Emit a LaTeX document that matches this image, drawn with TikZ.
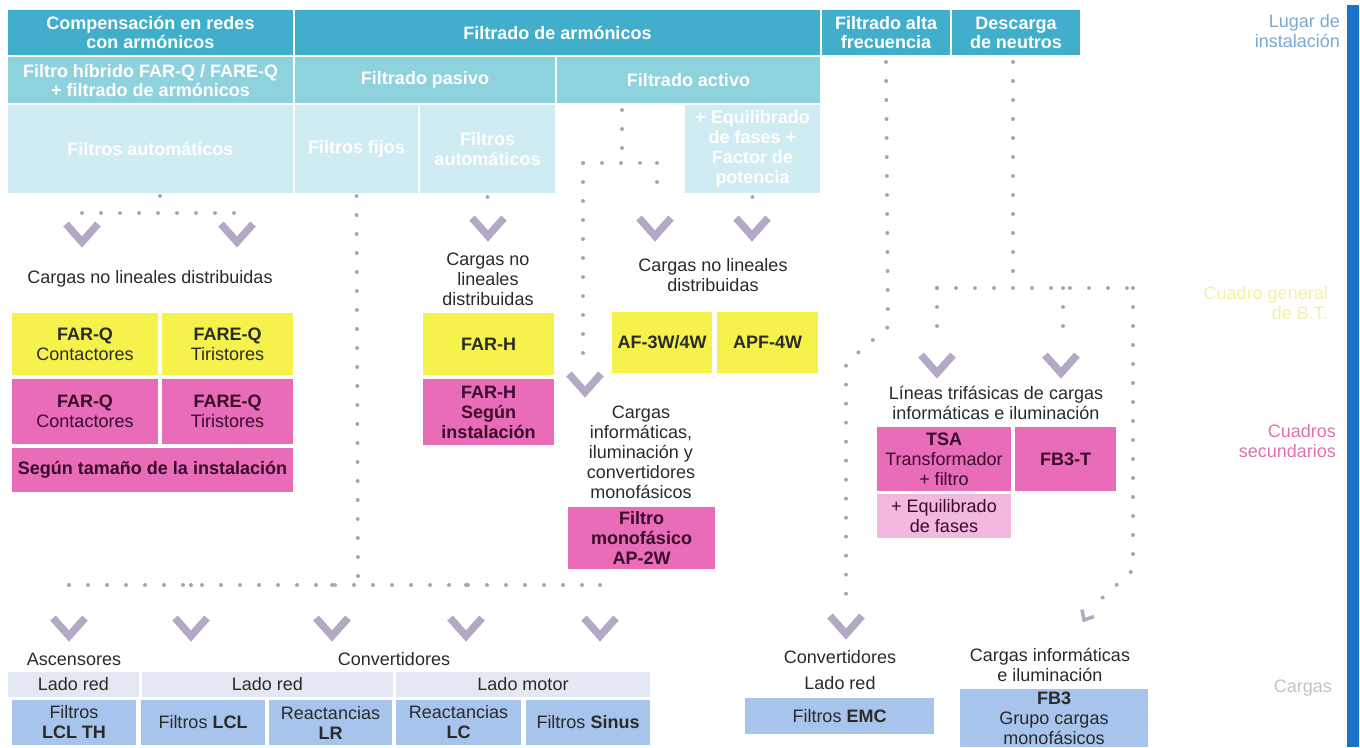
\documentclass[tikz,border=0pt]{standalone}
\usepackage{fontspec}
\setmainfont{Liberation Sans}
\usetikzlibrary{calc}

\definecolor{hdA}{HTML}{41AFCB}
\definecolor{hdB}{HTML}{8ED2DE}
\definecolor{hdC}{HTML}{CFECF2}
\definecolor{yel}{HTML}{F6F24C}
\definecolor{pnk}{HTML}{E86CB8}
\definecolor{lpnk}{HTML}{F2B8DD}
\definecolor{pnktext}{HTML}{3A0A2A}
\definecolor{blu}{HTML}{A6C4EC}
\definecolor{pale}{HTML}{E4E8F2}
\definecolor{dotc}{HTML}{ABA4B8}
\definecolor{chevc}{HTML}{B4A9C4}
\definecolor{txt}{HTML}{2A2A2A}
\definecolor{lugarc}{HTML}{7AA8D0}
\definecolor{cgbtc}{HTML}{F3F0A6}
\definecolor{cuadc}{HTML}{E070B0}
\definecolor{cargc}{HTML}{BFC3CF}
\definecolor{barc}{HTML}{1A73C8}

% a filled cell given by its corners: name, style, x1, y1, x2, y2, text
\newcommand\cellbox[7]{%
  \node[cell,#2,minimum width={(#5)-(#3)},minimum height={(#6)-(#4)}]
    (#1) at ({((#3)+(#5))/2},{((#4)+(#6))/2}) {#7};}

\tikzset{
  cell/.style={rectangle, inner sep=0pt, outer sep=0pt, align=center,
    text=txt, font=\fontsize{18}{20}\selectfont},
  hdone/.style={fill=hdA, text=white, font=\bfseries\fontsize{18}{19}\selectfont},
  hdtwo/.style={fill=hdB, text=white, font=\bfseries\fontsize{18}{19}\selectfont},
  hdthree/.style={fill=hdC, text=white, font=\bfseries\fontsize{18}{20}\selectfont},
  yelbox/.style={fill=yel},
  pnkbox/.style={fill=pnk, text=pnktext},
  lpnkbox/.style={fill=lpnk, text=pnktext},
  blubox/.style={fill=blu, text=txt},
  palebox/.style={fill=pale, text=txt},
  lbl/.style={align=center, inner sep=0pt, text=txt, font=\fontsize{18}{20}\selectfont},
  sidelbl/.style={align=right, anchor=east, inner sep=0pt, font=\fontsize{18}{20}\selectfont},
  dotline/.style={draw=dotc, line width=4pt, line cap=round, dash pattern=on 0pt off 19pt},
  chevline/.style={draw=chevc, line width=7.5pt, line join=miter},
  chev/.pic={\draw[chevline] (-16,-18) -- (0,0) -- (16,-18);},
  smallchev/.pic={\draw[chevline, line width=3.5pt] (-7,-8) -- (0,0) -- (7,-8);}
}

\begin{document}
\begin{tikzpicture}[x=1pt,y=-1pt]
\useasboundingbox (0,0) rectangle (1360,747);

% ---- header rows ----
\cellbox{hcomp}{hdone}{8}{10}{293}{55}{Compensación en redes\\con armónicos}
\cellbox{hfilt}{hdone}{295}{10}{820}{55}{Filtrado de armónicos}
\cellbox{halta}{hdone}{822}{10}{950}{55}{Filtrado alta\\frecuencia}
\cellbox{hdesc}{hdone}{952}{10}{1080}{55}{Descarga\\de neutros}

\cellbox{hhyb}{hdtwo}{8}{57}{293}{103}{Filtro híbrido FAR-Q / FARE-Q\\+ filtrado de armónicos}
\cellbox{hpas}{hdtwo}{295}{57}{555}{103}{Filtrado pasivo}
\cellbox{hact}{hdtwo}{557}{57}{820}{103}{Filtrado activo}

\cellbox{fauto}{hdthree}{8}{105}{293}{193}{Filtros automáticos}
\cellbox{ffijo}{hdthree}{295}{105}{418}{193}{Filtros fijos}
\cellbox{fauto2}{hdthree}{420}{105}{555}{193}{Filtros\\automáticos}
\cellbox{fequi}{hdthree}{685}{105}{820}{193}{+ Equilibrado\\de fases +\\Factor de\\potencia}

% ---- compensation with harmonics ----
\node[lbl] (cnl1) at (150,279) {Cargas no lineales distribuidas};
\cellbox{farqy}{yelbox}{12}{313}{158}{375}{\textbf{FAR-Q}\\Contactores}
\cellbox{fareqy}{yelbox}{162}{313}{293}{375}{\textbf{FARE-Q}\\Tiristores}
\cellbox{farqp}{pnkbox}{12}{379}{158}{444}{\textbf{FAR-Q}\\Contactores}
\cellbox{fareqp}{pnkbox}{162}{379}{293}{444}{\textbf{FARE-Q}\\Tiristores}
\cellbox{segun}{pnkbox}{12}{448}{293}{492}{\textbf{Según tamaño de la instalación}}

% ---- passive filtering ----
\node[lbl] (cnl2) at (488,279) {Cargas no\\lineales\\distribuidas};
\cellbox{farhy}{yelbox}{423}{313}{554}{375}{\textbf{FAR-H}}
\cellbox{farhp}{pnkbox}{423}{379}{554}{445}{\textbf{FAR-H}\\\textbf{Según}\\\textbf{instalación}}

% ---- active filtering ----
\node[lbl] (cnl3) at (713,275) {Cargas no lineales\\distribuidas};
\cellbox{af3w}{yelbox}{612}{312}{712}{373}{\textbf{AF-3W/4W}}
\cellbox{apf4w}{yelbox}{717}{312}{818}{373}{\textbf{APF-4W}}
\node[lbl] (cinf) at (641,452) {Cargas\\informáticas,\\iluminación y\\convertidores\\monofásicos};
\cellbox{ap2w}{pnkbox}{568}{507}{715}{569}{\textbf{Filtro}\\\textbf{monofásico}\\\textbf{AP-2W}}

% ---- three-phase lines ----
\node[lbl] (ltri) at (996,403) {Líneas trifásicas de cargas\\informáticas e iluminación};
\cellbox{tsa}{pnkbox}{877}{427}{1011}{491}{\textbf{TSA}\\Transformador\\+ filtro}
\cellbox{fb3t}{pnkbox}{1015}{427}{1116}{491}{\textbf{FB3-T}}
\cellbox{equi}{lpnkbox}{877}{494}{1011}{538}{+ Equilibrado\\de fases}

% ---- loads ----
\node[lbl] (asc) at (74,659) {Ascensores};
\node[lbl] (conv) at (394,659) {Convertidores};
\cellbox{lr1}{palebox}{8}{672}{139}{697}{Lado red}
\cellbox{lr2}{palebox}{142}{672}{393}{697}{Lado red}
\cellbox{lm}{palebox}{396}{672}{650}{697}{Lado motor}
\cellbox{lclth}{blubox}{12}{700}{136}{745}{Filtros\\\textbf{LCL TH}}
\cellbox{lcl}{blubox}{141}{700}{265}{745}{Filtros \textbf{LCL}}
\cellbox{lr}{blubox}{269}{700}{392}{745}{Reactancias\\\textbf{LR}}
\cellbox{lc}{blubox}{396}{700}{521}{745}{Reactancias\\\textbf{LC}}
\cellbox{sinus}{blubox}{526}{700}{650}{745}{Filtros \textbf{Sinus}}

\node[lbl] (conv2) at (840,657) {Convertidores};
\node[lbl] (lr3) at (840,683) {Lado red};
\cellbox{emc}{blubox}{745}{698}{934}{734}{Filtros \textbf{EMC}}
\node[lbl] (cinf2) at (1050,665) {Cargas informáticas\\e iluminación};
\cellbox{fb3}{blubox}{960}{689}{1148}{747}{\textbf{FB3}\\Grupo cargas\\monofásicos}

% ---- level labels and side bar ----
\node[sidelbl, text=lugarc] (lugar) at (1340,31) {Lugar de\\instalación};
\node[sidelbl, text=cgbtc] (cgbt) at (1328,303) {Cuadro general\\de B.T.};
\node[sidelbl, text=cuadc] (cuad) at (1336,441) {Cuadros\\secundarios};
\node[sidelbl, text=cargc] (carg) at (1332,688) {Cargas};
\fill[barc] (1347,5) rectangle (1359,747);

% ---- junction points ----
\coordinate (a1) at (160,213);
\coordinate (a2) at (82,213);
\coordinate (a3) at (237,213);
\coordinate (b1) at (358,585);
\coordinate (b2) at (69,585);
\coordinate (b3) at (600,585);
\coordinate (c1) at (622,163);
\coordinate (c2) at (583,163);
\coordinate (c3) at (657,163);
\coordinate (d1) at (888,327);
\coordinate (d2) at (846,363);
\coordinate (e1) at (1013,288);
\coordinate (e2) at (937,288);
\coordinate (e3) at (1063,288);
\coordinate (e4) at (1133,288);
\coordinate (e5) at (1133,570);

% ---- dotted connectors ----
\draw[dotline] (fauto.south -| a1) ++(0,3) -- (a1);
\draw[dotline] (a2) -- (a3);
\draw[dotline] (ffijo.south) ++(0,3) -- (b1);
\draw[dotline] (b2) -- (b3);
\foreach \x in {69,191,332,466,600}
  \draw[dotline] (\x,585) -- (\x,598);
\draw[dotline] (fauto2.south) ++(0,4) -- ++(0,9);
\draw[dotline] (622,110) -- (c1);
\draw[dotline] (c2) -- (c3);
\draw[dotline] (c2) -- (583,362);
\draw[dotline] (c3) -- (657,200);
\draw[dotline] (fequi.south) ++(0,4) -- ++(0,9);
\draw[dotline] (halta.south) ++(0,7) -- (d1) -- (d2) -- (846,600);
\draw[dotline] (hdesc.south -| e1) ++(0,7) -- (e1);
\draw[dotline] (e2) -- (e4);
\draw[dotline] (e2) -- (937,340);
\draw[dotline] (e3) -- (1063,340);
\draw[dotline] (e4) -- (e5) -- (1100,600);

% ---- arrow heads ----
\pic (k1) at (82,242) {chev};
\pic (k2) at (237,242) {chev};
\pic (k3) at (488,236) {chev};
\pic (k4) at (655,236) {chev};
\pic (k5) at (752,236) {chev};
\pic (k6) at (585,392) {chev};
\pic (k7) at (937,373) {chev};
\pic (k8) at (1061,373) {chev};
\foreach \x [count=\i] in {69,191,332,466,600}
  \pic (m\i) at (\x,636) {chev};
\pic (k9) at (846,634) {chev};
\pic[rotate=-30] (k10) at (1084,620) {smallchev};
\end{tikzpicture}
\end{document}
